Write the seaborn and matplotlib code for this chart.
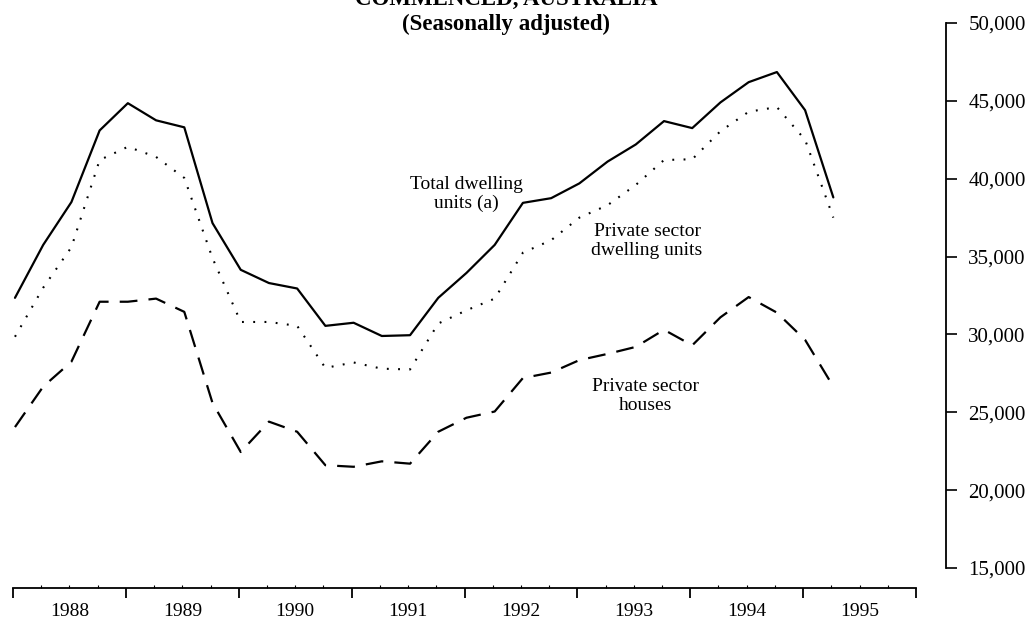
import numpy as np
import pandas as pd
import matplotlib
matplotlib.use("Agg")
import matplotlib.pyplot as plt
import seaborn as sns

# Quarterly values (seasonally adjusted)
years = ['1988', '1989', '1990', '1991', '1992', '1993', '1994', '1995']
total_units = [32350, 35750, 38500, 43100, 44850, 43750, 43300, 37150, 34150, 33300,
               32950, 30550, 30750, 29900, 29950, 32350, 33950, 35750, 38450, 38750,
               39700, 41100, 42200, 43700, 43250, 44900, 46200, 46850, 44400, 38800]
private_units = [29850, 33000, 35600, 41200, 42050, 41400, 40050, 34900, 30800, 30800,
                 30550, 27850, 28200, 27800, 27750, 30700, 31550, 32300, 35250, 36050,
                 37500, 38300, 39600, 41200, 41250, 43050, 44300, 44600, 42500, 37500]
private_houses = [24050, 26650, 28250, 32100, 32100, 32300, 31450, 25600, 22450, 24400,
                  23750, 21600, 21500, 21850, 21700, 23750, 24650, 25050, 27200, 27550,
                  28350, 28750, 29200, 30300, 29300, 31100, 32400, 31400, 29650, 26650]
y_ticks = [15000, 20000, 25000, 30000, 35000, 40000, 45000, 50000]

quarter = np.arange(len(total_units))
df = pd.DataFrame({'quarter': quarter, 'total': total_units,
                   'private': private_units, 'houses': private_houses})

sns.set_theme(style="white", rc={'axes.edgecolor': 'black', 'xtick.color': 'black',
                                 'ytick.color': 'black', 'text.color': 'black'})
plt.rcParams['font.family'] = ['Liberation Serif', 'DejaVu Serif']

fig = plt.figure(figsize=(10.35, 6.28), dpi=100)
ax = fig.add_axes([13 / 1035, 1 - 568 / 628, (916 - 13) / 1035, (568 - 23) / 628])

sns.lineplot(data=df, x='quarter', y='total', ax=ax, color='black', lw=1.6)
sns.lineplot(data=df, x='quarter', y='private', ax=ax, color='black', lw=1.5,
             dashes=False, linestyle=(0, (0.9, 4.5)))
sns.lineplot(data=df, x='quarter', y='houses', ax=ax, color='black', lw=1.6,
             linestyle=(0, (8, 5)))

off = -0.07
ax.set_xlim(off, 32 + off)
ax.set_ylim(15000, 50000)

# year boundaries and quarter ticks
ax.set_xticks(np.arange(0, 33, 4) + off)
ax.set_xticklabels([])
minor_pos = [q + off for q in range(1, 32) if q % 4 != 0]
minor_lab = [years[q // 4] if q % 4 == 2 else '' for q in range(1, 32) if q % 4 != 0]
ax.set_xticks(minor_pos, minor=True)
ax.set_xticklabels(minor_lab, minor=True)
ax.tick_params(axis='x', which='major', bottom=True, direction='out', length=7, width=1.3)
ax.tick_params(axis='x', which='minor', bottom=True, direction='in', length=2.5,
               width=0.8, pad=11, labelsize=14)

ax.yaxis.tick_right()
ax.set_yticks(y_ticks)
ax.set_yticklabels([f'{v:,}' for v in y_ticks])
ax.tick_params(axis='y', which='major', right=True, left=False, direction='out',
               length=8, width=1.2, pad=8, labelsize=15)

ax.set_xlabel('')
ax.set_ylabel('')
for s in ['left', 'top']:
    ax.spines[s].set_visible(False)
ax.spines['right'].set_position(('outward', 21.6))
ax.spines['right'].set_bounds(15000, 50000)
ax.spines['bottom'].set_position(('outward', 14.4))
ax.spines['right'].set_linewidth(1.3)
ax.spines['bottom'].set_linewidth(1.3)

# series labels
ax.text(16.0, 39000, 'Total dwelling\nunits (a)', ha='center', va='center',
        fontsize=14, linespacing=1.1)
ax.text(22.4, 36000, 'Private sector\ndwelling units', ha='center', va='center',
        fontsize=14, linespacing=1.1)
ax.text(22.35, 26050, 'Private sector\nhouses', ha='center', va='center',
        fontsize=14, linespacing=1.1)

# title (first line runs off the top edge, as in the source)
fig.text(506 / 1035, 1 - 5 / 628, 'COMMENCED, AUSTRALIA', ha='center', va='baseline',
         fontsize=16.5, fontweight='bold')
fig.text(506 / 1035, 1 - 30 / 628, '(Seasonally adjusted)', ha='center', va='baseline',
         fontsize=16.5, fontweight='bold')

fig.savefig('out.png', dpi=100)
